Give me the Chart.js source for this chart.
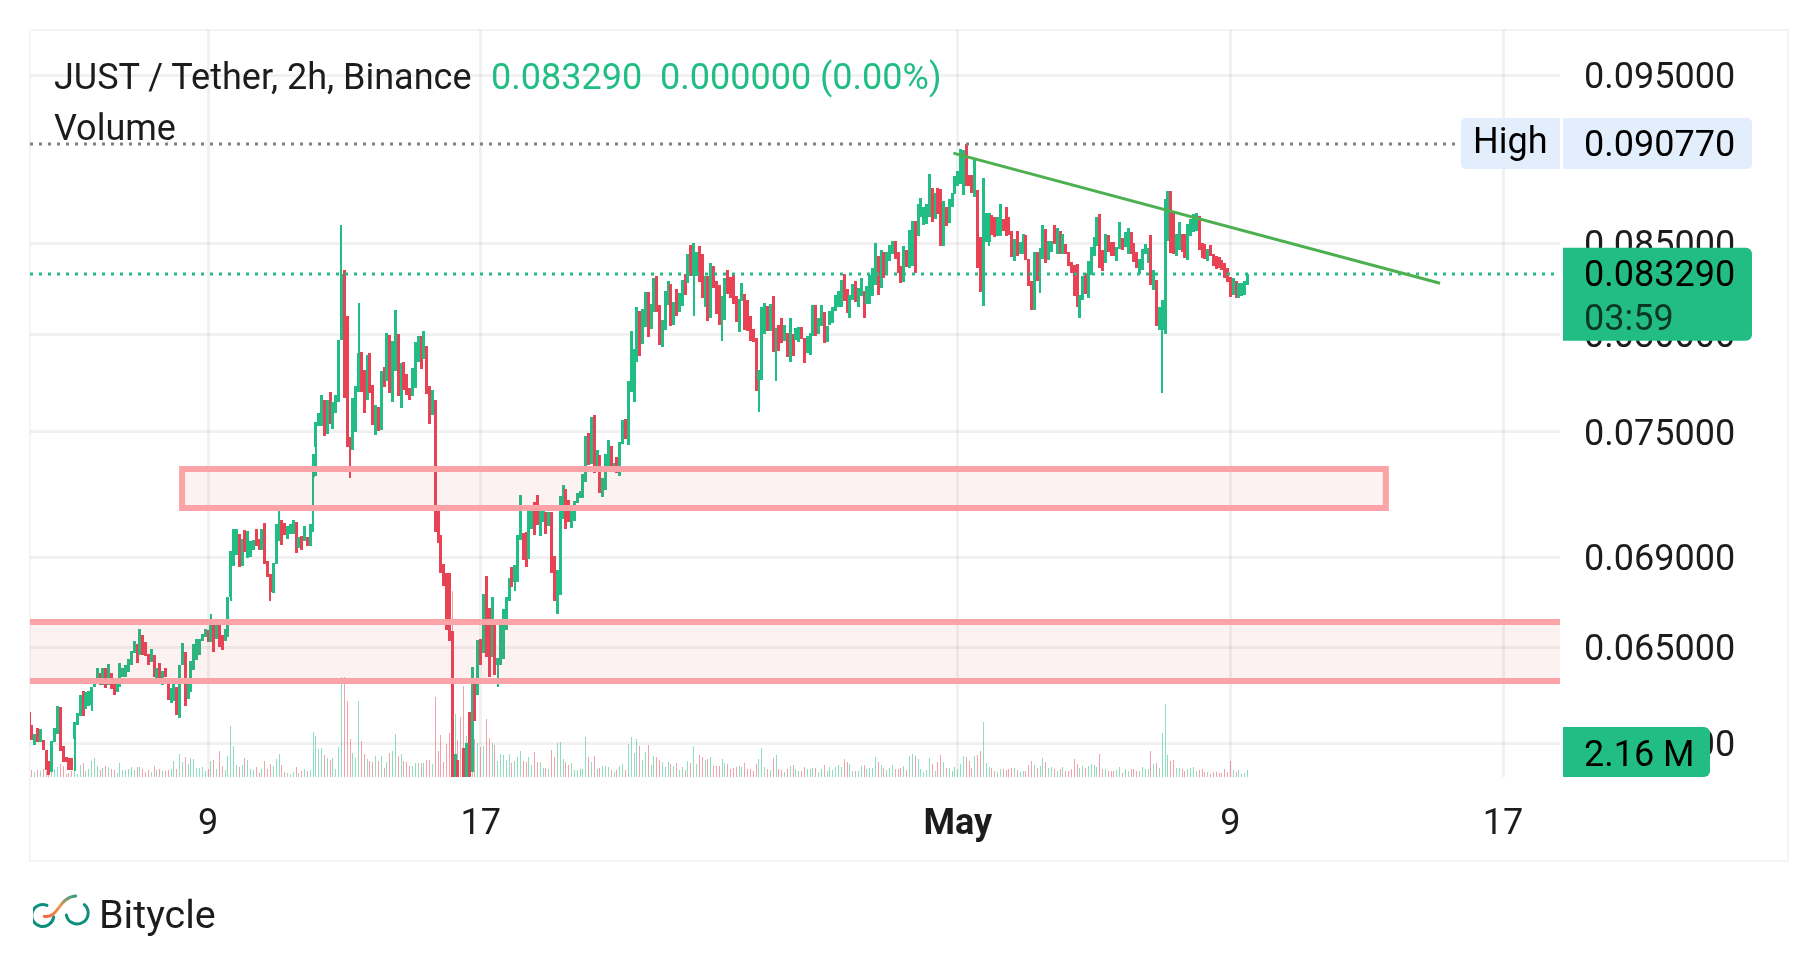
<!DOCTYPE html>
<html lang="en">
<head>
  <meta charset="UTF-8">
  <title>JUST / Tether, 2h, Binance</title>
  <script src="https://cdn.jsdelivr.net/npm/chart.js"></script>
  <style>
    html, body { margin: 0; background: #fff; }
    body { width: 1818px; height: 966px; overflow: hidden; position: relative; font-family: Roboto, sans-serif; color: #1c1c1c; }
    #priceChart { position: absolute; left: 0; top: 0; }
    #frame { position: absolute; left: 29px; top: 29px; width: 1756px; height: 829px; border: 2px solid #f4f4f4; }
    .legend { position: absolute; left: 54px; font-size: 36px; line-height: 42px; white-space: pre; }
    .legend span { position: absolute; top: 0; color: #22bd85; }
    #brand { position: absolute; left: 33px; top: 893px; display: flex; }
    #brandName { position: absolute; left: 66px; top: -2px; font-size: 39.5px; line-height: 48px; }
  </style>
</head>
<body>
<div id="frame"></div>
<canvas id="priceChart" width="1818" height="966"></canvas>
<div class="legend" style="top:56px">JUST / Tether, 2h, Binance<span style="left:437px">0.083290</span><span style="left:606px">0.000000 (0.00%)</span></div>
<div class="legend" style="top:107px">Volume</div>
<div id="brand">
  <svg width="60" height="44" viewBox="0 0 180 132">
    <defs>
      <linearGradient id="swoosh" x1="0" y1="1" x2="1" y2="0">
        <stop offset="0" stop-color="#f4693f"/>
        <stop offset="0.5" stop-color="#e79a55"/>
        <stop offset="1" stop-color="#2f9c84"/>
      </linearGradient>
    </defs>
    <path d="M42 37 A33 33 0 1 0 62 72" fill="none" stroke="#0e8f7e" stroke-width="9" stroke-linecap="round"/>
    <path d="M154 35 A33 33 0 1 1 100 66" fill="none" stroke="#0e8f7e" stroke-width="9" stroke-linecap="round"/>
    <path d="M34 70 C75 78 78 12 128 9" fill="none" stroke="url(#swoosh)" stroke-width="9" stroke-linecap="round"/>
  </svg>
  <div id="brandName">Bitycle</div>
</div>

<script>
  // 2h candles, prices in units of 0.00001, first bar sits at slot 33 (12 slots = 1 day, day 0 = Apr 1)
  const firstSlot = 33;
  const priceUnit = 0.00001;

  const opens = [
    6226,6173,6093,6160,6103,6114,6073,6029,5982,6103,
    6135,6247,6089,6044,6041,6041,6118,6174,6212,6316,
    6240,6250,6254,6330,6346,6392,6339,6413,6339,6392,
    6353,6308,6333,6374,6374,6395,6426,6476,6515,6465,
    6554,6523,6472,6437,6468,6367,6434,6341,6413,6353,
    6266,6274,6333,6202,6423,6480,6282,6310,6402,6444,
    6465,6528,6544,6577,6522,6603,6534,6603,6554,6528,
    6546,6720,6859,6911,7007,6859,7026,6897,6903,6935,
    7031,6983,6935,7060,6884,6822,6739,6871,6974,7074,
    7060,6983,7007,7007,7065,6945,6998,6974,6993,6950,
    7276,7424,7526,7529,7657,7487,7701,7512,7594,7651,
    7971,8348,8101,7473,7408,7498,7702,7905,7813,7660,
    7900,7736,7483,7624,7507,7828,7757,7997,7650,7808,
    8002,7619,7854,7793,7721,7680,7721,7854,7992,7869,
    7941,7731,7584,7660,7122,7002,6871,6830,6827,6572,
    5960,6033,5960,6081,5960,6228,5982,6346,6296,6537,
    6476,6814,6673,6458,6598,6426,6426,6451,6573,6705,
    6858,6789,6789,6978,7012,7017,6893,7031,7156,7190,
    6998,7065,7113,7046,7113,6906,6647,6730,7079,7218,
    7166,7036,7070,7151,7175,7175,7255,7492,7343,7581,
    7319,7386,7180,7214,7305,7430,7306,7375,7282,7439,
    7561,7435,7702,7651,7854,8128,7951,8037,8227,8030,
    8118,8315,8156,7935,8024,8156,8271,8052,8244,8118,
    8150,8326,8277,8491,8315,8315,8485,8436,8145,8315,
    8085,8370,8288,8266,8079,8079,8348,8310,8326,8205,
    8013,8178,8216,8183,8101,8030,7981,7762,7762,8002,
    8150,8019,8205,7937,8052,8085,7966,8008,7854,8002,
    7971,7961,8041,7981,7900,7889,7991,8156,8004,8046,
    8118,7961,8052,8063,8123,8145,8145,8326,8244,8085,
    8183,8288,8145,8205,8233,8161,8161,8205,8266,8425,
    8249,8452,8326,8398,8441,8513,8452,8370,8282,8463,
    8359,8370,8623,8542,8649,8601,8607,8649,8815,8637,
    8815,8812,8485,8704,8612,8708,8779,8827,8837,8773,
    9077,8894,8894,8763,8802,8537,8152,8507,8507,8658,
    8646,8538,8542,8635,8704,8646,8571,8398,8571,8436,
    8436,8548,8409,8288,8129,8452,8409,8409,8577,8403,
    8452,8600,8436,8571,8436,8496,8452,8392,8376,8381,
    8090,8183,8332,8194,8321,8425,8485,8663,8463,8387,
    8548,8508,8508,8398,8469,8531,8480,8441,8565,8502,
    8447,8328,8348,8441,8387,8548,8238,8293,8024,8024,
    8002,8513,8796,8677,8430,8463,8554,8554,8403,8542,
    8565,8571,8652,8502,8496,8398,8491,8436,8430,8419,
    8403,8387,8359,8310,8211,8288,8194,8205,8211,8266
  ];
  const closes = [
    6163,6114,6135,6103,6156,6073,5990,5973,6110,6163,
    6253,6066,6022,6022,5990,5990,6184,6223,6299,6212,
    6308,6316,6333,6353,6413,6339,6413,6325,6430,6322,
    6299,6353,6434,6413,6426,6451,6482,6528,6434,6581,
    6468,6462,6426,6493,6374,6413,6367,6400,6374,6278,
    6325,6353,6215,6426,6518,6253,6350,6442,6515,6537,
    6537,6559,6581,6523,6603,6480,6595,6501,6489,6581,
    6721,6928,7031,7031,6855,6983,6926,7022,6974,6978,
    6950,6935,7031,6871,6811,6742,6875,7055,7055,6956,
    7002,7046,7055,7074,6921,6993,6935,7046,6950,7055,
    7390,7550,7594,7686,7479,7660,7538,7650,7686,7971,
    8326,7670,7425,7424,7670,7731,7903,7702,7594,7890,
    7696,7532,7634,7502,7808,7726,8007,7696,7966,8129,
    7680,7849,7711,7686,7660,7823,7961,7992,7818,8018,
    7691,7538,7711,7018,6964,6827,6770,6573,6529,5940,
    6057,5960,5930,5960,6101,5960,6417,6191,6531,6423,
    6734,6459,6374,6721,6381,6455,6603,6669,6721,6805,
    6767,6863,7002,7190,6888,6855,7122,7146,7002,7050,
    7122,7122,7007,7113,6828,6705,6844,7185,7238,7031,
    7065,7122,7161,7199,7209,7290,7478,7335,7571,7298,
    7410,7199,7271,7391,7459,7305,7346,7298,7451,7556,
    7463,7757,8018,7925,8145,7884,8134,8227,7986,8161,
    8304,8118,7946,8079,8233,8288,8046,8172,8101,8222,
    8293,8211,8436,8315,8502,8447,8282,8194,8315,8074,
    8387,8249,8107,8052,8205,8304,8216,8194,8161,8068,
    8189,8277,8024,8018,7966,7961,7706,7813,8145,8167,
    8019,8161,7905,8035,7915,7956,8052,7879,8085,7884,
    8035,8041,7976,7849,7991,8008,8156,7991,8090,8156,
    7956,8046,8123,8145,8211,8233,8293,8178,8112,8211,
    8271,8172,8249,8304,8085,8260,8321,8359,8502,8211,
    8463,8304,8447,8491,8513,8409,8332,8277,8485,8365,
    8573,8628,8332,8726,8756,8708,8726,8899,8619,8786,
    8667,8482,8738,8594,8750,8785,8888,8917,9050,9044,
    8827,8827,8785,8981,8359,8229,8877,8669,8669,8546,
    8537,8646,8721,8571,8542,8548,8419,8525,8425,8508,
    8554,8403,8260,8129,8447,8288,8474,8600,8387,8513,
    8513,8496,8588,8436,8554,8436,8370,8335,8207,8145,
    8211,8315,8216,8398,8480,8537,8646,8359,8343,8554,
    8452,8430,8425,8480,8617,8463,8560,8588,8441,8392,
    8359,8409,8469,8496,8474,8266,8348,8046,8145,8183,
    8750,8796,8445,8441,8554,8617,8452,8414,8606,8635,
    8663,8669,8463,8414,8409,8469,8430,8370,8354,8359,
    8348,8304,8282,8200,8304,8194,8277,8277,8288,8329
  ];
  // volume in millions
  const volumes = [
    1.5,2.1,1.5,2.1,1.8,2.3,1.8,1.3,1.5,2.3,
    3.0,3.8,3.3,1.0,1.3,1.8,3.3,1.0,3.6,4.2,
    1.8,2.5,4.8,5.7,3.3,2.1,2.8,3.3,3.0,2.3,
    2.1,1.2,4.2,2.1,2.1,2.4,3.0,2.1,3.0,3.0,
    2.4,1.5,2.1,1.5,3.3,2.1,2.4,1.8,1.8,2.1,
    2.4,4.8,2.4,6.9,4.5,6.0,3.9,5.7,5.4,2.7,
    2.7,3.0,1.8,2.4,4.8,5.1,2.4,7.8,3.3,2.1,
    6.3,15.3,9.3,3.6,3.0,3.6,5.7,5.1,2.4,2.1,
    3.0,1.2,2.4,4.8,2.4,3.9,3.3,5.4,6.9,3.6,
    1.5,1.2,0.9,1.5,3.0,1.2,1.8,2.4,1.8,2.1,
    13.5,12.3,8.4,8.7,6.6,5.7,5.1,5.7,2.4,9.0,
    30.0,30.0,22.8,11.4,7.2,5.7,22.8,10.8,6.9,5.4,
    4.8,4.5,6.3,4.8,6.3,2.7,4.5,7.2,7.8,12.9,
    6.3,6.9,4.8,4.5,3.3,3.3,4.2,4.2,4.2,4.2,
    5.1,5.1,3.9,24.0,7.8,12.6,4.5,9.9,13.2,55.8,
    18.9,11.1,18.0,27.3,12.3,10.8,6.8,11.4,10.2,9.0,
    9.3,17.4,11.7,10.2,9.6,4.8,6.9,6.6,5.1,6.9,
    4.2,4.8,6.0,7.8,4.8,4.5,6.0,3.6,7.5,4.5,
    4.5,2.7,2.7,2.4,8.1,6.0,10.2,10.5,5.4,4.5,
    3.6,4.2,2.1,2.1,2.4,2.4,12.0,6.0,4.5,6.3,
    2.4,2.7,3.3,3.3,3.0,2.1,1.5,2.1,3.3,3.9,
    2.1,9.9,12.0,7.2,11.4,9.3,5.1,7.5,9.6,3.6,
    6.3,6.0,5.1,4.5,3.0,4.5,3.9,3.3,4.2,2.1,
    3.0,2.1,4.8,4.2,9.3,3.9,6.6,6.0,5.1,5.4,
    6.0,3.3,3.3,3.3,5.4,4.2,3.9,2.4,2.7,3.0,
    3.3,3.0,4.2,2.4,2.4,1.8,3.9,5.4,8.7,3.0,
    2.4,2.1,5.7,6.6,2.4,2.1,1.5,2.4,3.3,3.6,
    2.4,1.8,1.8,3.0,2.4,2.4,2.7,2.7,1.5,2.4,
    3.6,1.8,3.0,2.1,3.0,3.6,3.0,5.4,4.5,3.9,
    1.8,1.8,1.8,3.3,3.6,2.4,2.7,2.7,6.0,4.5,
    3.6,2.7,2.1,2.7,3.6,2.4,2.4,2.7,3.3,2.1,
    6.3,6.9,6.3,5.4,2.4,1.5,2.1,5.7,3.9,1.8,
    4.5,6.6,4.5,2.7,2.7,1.8,3.0,2.4,3.9,6.3,
    6.0,4.8,2.7,6.3,6.6,7.8,16.5,4.2,3.0,2.7,
    1.8,1.5,2.4,2.4,2.1,2.4,2.7,2.7,2.1,1.5,
    1.8,1.8,3.6,4.8,3.6,2.7,3.3,5.7,4.5,2.7,
    3.0,2.4,1.8,2.4,3.0,1.8,1.8,2.4,5.4,3.9,
    2.7,3.3,2.7,3.3,3.9,3.6,3.0,6.9,2.4,2.4,
    1.8,1.8,1.8,2.1,3.0,1.2,2.4,1.8,2.4,2.4,
    1.8,1.8,3.0,2.4,2.4,7.8,3.9,4.2,2.7,13.2,
    21.9,6.6,4.8,5.1,2.7,2.7,2.4,1.8,2.4,2.7,
    3.0,1.8,2.1,2.4,1.5,1.5,0.9,1.5,1.5,1.2,
    1.2,2.4,1.5,4.8,2.1,1.5,2.1,0.9,1.2,2.16
  ];
  // bars whose wick sticks out past the body
  const wickSlots = [49,55,97,104,118,121,133,134,143,146,149,198,204,267,277,290,296,371,389,432];
  const wickTops = [6184,6333,6647,6928,6822,7122,7390,7550,8601,7473,8167,6455,6863,8502,8205,7813,8035,8669,8474,8183];
  const wickBottoms = [5986,6229,6522,6701,6705,6974,7017,7281,7971,7273,7702,6330,6749,8101,7966,7599,7757,8485,8222,7696];

  const priceTicks = [0.095, 0.085, 0.08, 0.075, 0.069, 0.065, 0.061];
  const dayTicks = [8, 16, 30, 38, 46];
  const dayLabels = ['9', '17', 'May', '9', '17'];

  const lastPrice = 0.08329;
  const highPrice = 0.09077;
  const lastVolume = '2.16 M';
  const countdown = '03:59';

  // drawn ranges: [start day, end day, upper price, lower price]
  const supplyZone = [7.24, 42.56, 0.07317, 0.0713];
  const demandZone = [2.0, 48.0, 0.06612, 0.06356];
  const trendDays = [29.87, 44.15];
  const trendPrices = [0.09023, 0.08276];

  const UP = '#22bd85';
  const DOWN = '#e84355';
  const ZONE_EDGE = '#fba3a6';
  const ZONE_FILL = 'rgba(230,70,75,0.07)';
  const TEXT = '#1c1c1c';
  const FONT = 'Roboto, sans-serif';

  const slotDay = slot => slot / 12;
  const isUp = i => closes[i] >= opens[i];

  const bodyData = opens.map((o, i) => ({
    x: slotDay(firstSlot + i),
    y: [Math.min(o, closes[i]) * priceUnit, Math.max(o, closes[i]) * priceUnit]
  }));
  const wickData = wickSlots.map((slot, i) => ({
    x: slotDay(slot),
    y: [wickBottoms[i] * priceUnit, wickTops[i] * priceUnit]
  }));
  const volumeData = volumes.map((v, i) => ({ x: slotDay(firstSlot + i), y: v }));

  // snap bars to whole pixels so candles stay crisp, nudge the price labels onto their gridlines
  const snapBars = {
    id: 'snapBars',
    afterDatasetsUpdate(chart) {
      chart.getSortedVisibleDatasetMetas().forEach(meta => {
        meta.data.forEach(bar => {
          bar.width = Math.round(bar.width);
          bar.x = Math.round(bar.x - bar.width / 2) + bar.width / 2;
          bar.y = Math.round(bar.y);
          bar.base = Math.round(bar.base);
        });
      });
      chart.scales.y.getLabelItems().forEach(item => { item.textOffset = 4; });
    }
  };

  function roundedBox(ctx, x, y, w, h, radii, color) {
    ctx.fillStyle = color;
    ctx.beginPath();
    ctx.roundRect(x, y, w, h, radii);
    ctx.fill();
  }

  function drawZone(ctx, scales, zone, bounded) {
    const x1 = scales.x.getPixelForValue(zone[0]);
    const x2 = scales.x.getPixelForValue(zone[1]);
    const top = Math.round(scales.y.getPixelForValue(zone[2]));
    const bottom = Math.round(scales.y.getPixelForValue(zone[3]));
    ctx.fillStyle = ZONE_FILL;
    ctx.fillRect(x1, top, x2 - x1, bottom - top);
    ctx.strokeStyle = ZONE_EDGE;
    ctx.lineWidth = 6;
    if (bounded) {
      ctx.strokeRect(x1, top, x2 - x1, bottom - top);
    } else {
      ctx.beginPath();
      ctx.moveTo(x1, top);
      ctx.lineTo(x2, top);
      ctx.moveTo(x1, bottom);
      ctx.lineTo(x2, bottom);
      ctx.stroke();
    }
  }

  const overlays = {
    id: 'overlays',
    afterDatasetsDraw(chart) {
      const { ctx, chartArea, scales } = chart;
      ctx.save();
      ctx.beginPath();
      ctx.rect(chartArea.left, chartArea.top, chartArea.width, chartArea.height);
      ctx.clip();

      drawZone(ctx, scales, supplyZone, true);
      drawZone(ctx, scales, demandZone, false);

      // dotted high and last-price lines
      ctx.setLineDash([3, 6]);
      ctx.lineWidth = 3;
      ctx.strokeStyle = '#808080';
      const highY = Math.round(scales.y.getPixelForValue(highPrice));
      ctx.beginPath();
      ctx.moveTo(chartArea.left, highY);
      ctx.lineTo(1456, highY);
      ctx.stroke();
      ctx.strokeStyle = UP;
      const lastY = Math.round(scales.y.getPixelForValue(lastPrice));
      ctx.beginPath();
      ctx.moveTo(chartArea.left, lastY);
      ctx.lineTo(chartArea.right, lastY);
      ctx.stroke();
      ctx.setLineDash([]);

      // trend line
      ctx.strokeStyle = '#4caf50';
      ctx.lineWidth = 3;
      ctx.beginPath();
      ctx.moveTo(scales.x.getPixelForValue(trendDays[0]), scales.y.getPixelForValue(trendPrices[0]));
      ctx.lineTo(scales.x.getPixelForValue(trendDays[1]), scales.y.getPixelForValue(trendPrices[1]));
      ctx.stroke();
      ctx.restore();
    },
    afterDraw(chart) {
      const { ctx, chartArea, scales } = chart;
      const axisX = chartArea.right + 3;
      const textX = chartArea.right + 24;
      ctx.save();
      ctx.font = '36px ' + FONT;
      ctx.textBaseline = 'middle';
      ctx.textAlign = 'left';

      // high tag
      const highY = scales.y.getPixelForValue(highPrice);
      roundedBox(ctx, 1461, highY - 26, 99, 51, [5, 0, 0, 5], '#e3eefc');
      roundedBox(ctx, axisX, highY - 26, 189, 51, [0, 5, 5, 0], '#e3eefc');
      ctx.fillStyle = '#000';
      ctx.fillText('High', 1473, highY);
      ctx.fillText(highPrice.toFixed(6), textX, highY + 3);

      // last price tag with bar countdown
      const lastY = scales.y.getPixelForValue(lastPrice);
      roundedBox(ctx, axisX, lastY - 26, 189, 93, [0, 6, 6, 0], UP);
      ctx.fillStyle = '#000';
      ctx.fillText(lastPrice.toFixed(6), textX, lastY + 3);
      ctx.fillStyle = 'rgba(0,0,0,0.7)';
      ctx.fillText(countdown, textX, lastY + 47);

      // volume tag sits on the bottom of the pane
      roundedBox(ctx, axisX, chartArea.bottom - 50, 147, 50, [0, 6, 6, 0], UP);
      ctx.fillStyle = '#000';
      ctx.fillText(lastVolume, textX, chartArea.bottom - 20);
      ctx.restore();
    }
  };

  new Chart(document.getElementById('priceChart'), {
    type: 'bar',
    data: {
      datasets: [
        {
          label: 'Volume',
          yAxisID: 'y1',
          data: volumeData,
          maxBarThickness: 1,
          backgroundColor: volumes.map((_, i) => isUp(i) ? 'rgba(34,189,133,0.5)' : 'rgba(232,67,85,0.5)'),
          order: 3
        },
        {
          label: 'Wicks',
          yAxisID: 'y',
          data: wickData,
          maxBarThickness: 2,
          backgroundColor: wickSlots.map(slot => isUp(slot - firstSlot) ? UP : DOWN),
          order: 2
        },
        {
          label: 'Candles',
          yAxisID: 'y',
          data: bodyData,
          maxBarThickness: 3,
          backgroundColor: opens.map((_, i) => isUp(i) ? UP : DOWN),
          order: 1
        }
      ]
    },
    options: {
      responsive: false,
      animation: false,
      devicePixelRatio: 1,
      layout: { padding: { left: 30, top: 30, right: 0, bottom: 0 } },
      datasets: { bar: { grouped: false, inflateAmount: 0, borderWidth: 0, barPercentage: 1, categoryPercentage: 1 } },
      plugins: { legend: { display: false }, tooltip: { enabled: false } },
      scales: {
        x: {
          type: 'linear',
          min: 2.777,
          max: 47.67,
          offset: false,
          border: { display: false },
          grid: { color: 'rgba(0,0,0,0.055)', lineWidth: 3, drawTicks: false, offset: false },
          afterBuildTicks: scale => { scale.ticks = dayTicks.map(value => ({ value })); },
          afterFit: scale => { scale.height = 189; scale.paddingLeft = 0; scale.paddingRight = 0; },
          ticks: {
            autoSkip: false,
            maxRotation: 0,
            padding: 26,
            color: TEXT,
            font: ctx => ({ family: FONT, size: 36, weight: ctx.index === 2 ? 'bold' : 'normal' }),
            callback: (value, i) => dayLabels[i]
          }
        },
        y: {
          type: 'logarithmic',
          position: 'right',
          min: 0.05964,
          max: 0.09791,
          border: { display: false },
          grid: { color: 'rgba(0,0,0,0.055)', lineWidth: 3, drawTicks: false },
          afterBuildTicks: scale => { scale.ticks = priceTicks.map(value => ({ value })); },
          afterFit: scale => { scale.width = 258; scale.paddingTop = 0; scale.paddingBottom = 0; },
          ticks: {
            autoSkip: false,
            padding: 24,
            color: TEXT,
            font: { family: FONT, size: 36 },
            callback: value => Number(value).toFixed(6)
          }
        },
        y1: {
          type: 'linear',
          display: false,
          min: 0,
          max: 224
        }
      }
    },
    plugins: [snapBars, overlays]
  });
</script>
</body>
</html>
